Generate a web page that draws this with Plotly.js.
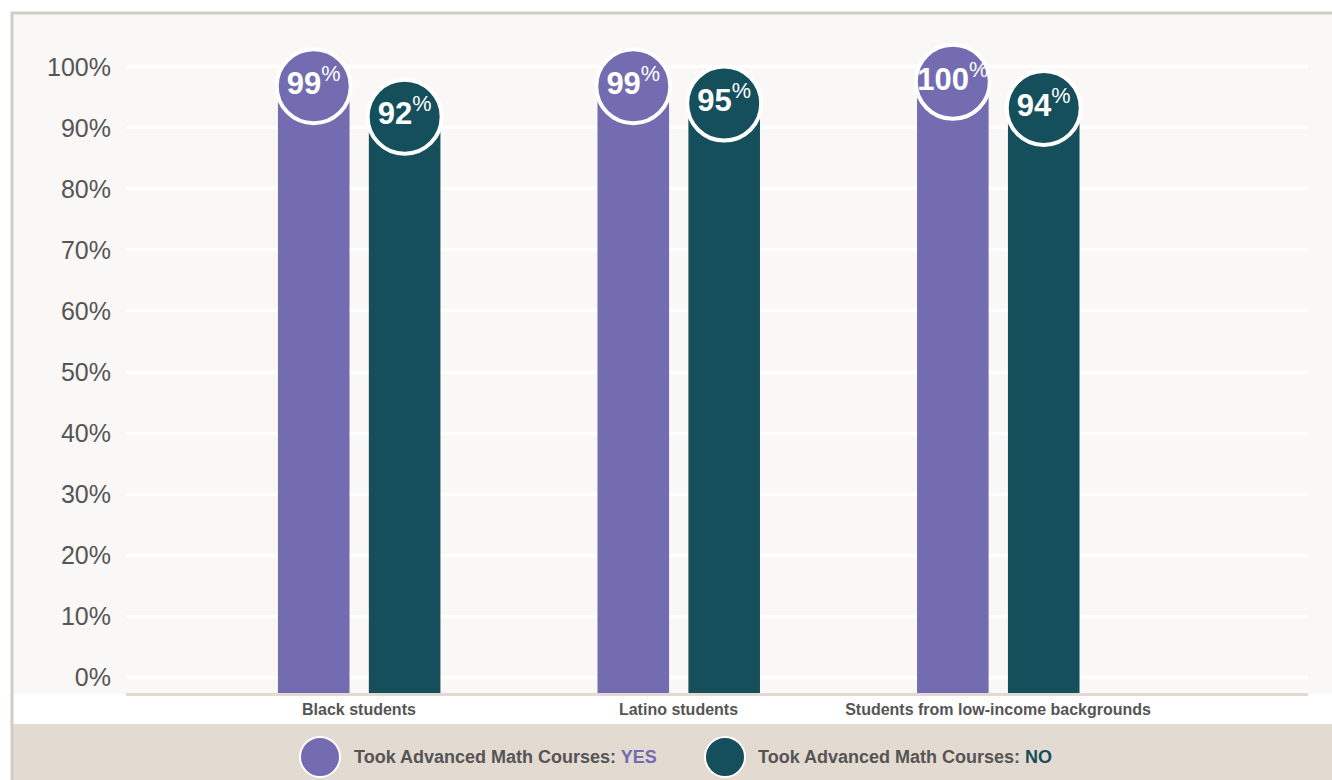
<!DOCTYPE html>
<html>
<head>
<meta charset="utf-8">
<script src="https://cdn.plot.ly/plotly-3.0.1.min.js"></script>
<style>html,body{margin:0;padding:0;background:#fff;}#chart{width:1332px;height:780px;}</style>
</head>
<body>
<div id="chart"></div>
<script>
// ---- data ----
const categories = ['Black students', 'Latino students', 'Students from low-income backgrounds'];
const yesValues = [99, 99, 100];
const noValues = [92, 95, 94];
const yTickValues = [0, 10, 20, 30, 40, 50, 60, 70, 80, 90, 100];
const yTickLabels = ['0%', '10%', '20%', '30%', '40%', '50%', '60%', '70%', '80%', '90%', '100%'];
const seriesNames = ['Took Advanced Math Courses: YES', 'Took Advanced Math Courses: NO'];

// ---- styling ----
const PURPLE = '#746cb0';
const TEAL = '#154f5c';
const GRAY_TEXT = '#555555';
const FONT = '"Liberation Sans", Arial, sans-serif';
const W = 1332, H = 780;
const ML = 126, MR = 24, MT = 20, MB = 87;
const Y_MIN = -2.62, Y_MAX = 107.7;
const BAR_W = 0.224, YES_OFF = -0.2535, NO_OFF = 0.031;

const xIdx = categories.map((c, i) => i);
const px = x => (x - ML) / (W - ML - MR);
const py = y => (H - MB - y) / (H - MT - MB);

function label(v) {
  return '<b>' + v + '</b><sup>%</sup>';
}

const traces = [
  {type: 'bar', x: xIdx, y: yesValues.map(v => v - Y_MIN), base: Y_MIN, width: BAR_W, offset: YES_OFF,
   marker: {color: PURPLE}, hoverinfo: 'skip', showlegend: false},
  {type: 'bar', x: xIdx, y: noValues.map(v => v - Y_MIN), base: Y_MIN, width: BAR_W, offset: NO_OFF,
   marker: {color: TEAL}, hoverinfo: 'skip', showlegend: false},
  {type: 'scatter', mode: 'markers+text', x: xIdx.map(i => i + YES_OFF + BAR_W / 2), y: yesValues, yaxis: 'y2',
   marker: {size: 74, color: PURPLE, line: {color: '#ffffff', width: 4}},
   text: yesValues.map(label), textposition: 'middle center',
   textfont: {family: FONT, size: 31, color: '#ffffff'}, cliponaxis: false, showlegend: false, hoverinfo: 'skip'},
  {type: 'scatter', mode: 'markers+text', x: xIdx.map(i => i + NO_OFF + BAR_W / 2), y: noValues, yaxis: 'y2',
   marker: {size: 74, color: TEAL, line: {color: '#ffffff', width: 4}},
   text: noValues.map(label), textposition: 'middle center',
   textfont: {family: FONT, size: 31, color: '#ffffff'}, cliponaxis: false, showlegend: false, hoverinfo: 'skip'}
];

const shapes = [
  {type: 'rect', xref: 'paper', yref: 'paper', x0: px(13), x1: px(1332), y0: py(694), y1: py(14),
   fillcolor: '#f9f8f6', line: {width: 0}, layer: 'below'},
  {type: 'rect', xref: 'paper', yref: 'paper', x0: px(13), x1: px(1332), y0: py(780), y1: py(724),
   fillcolor: '#e3dad1', line: {width: 0}, layer: 'below'},
  {type: 'line', xref: 'paper', yref: 'paper', x0: px(12), x1: px(12), y0: py(780), y1: py(12),
   line: {color: '#cfcdc6', width: 3}},
  {type: 'line', xref: 'paper', yref: 'paper', x0: px(11), x1: px(1332), y0: py(13), y1: py(13),
   line: {color: '#cfcdc6', width: 3}},
  {type: 'circle', xref: 'paper', yref: 'paper', x0: px(300), x1: px(340), y0: py(777), y1: py(737),
   fillcolor: PURPLE, line: {color: '#ffffff', width: 2}},
  {type: 'circle', xref: 'paper', yref: 'paper', x0: px(705), x1: px(745), y0: py(777), y1: py(737),
   fillcolor: TEAL, line: {color: '#ffffff', width: 2}}
];

function legendText(name, color) {
  const parts = name.split(': ');
  return '<b>' + parts[0] + ': <span style="color:' + color + '">' + parts[1] + '</span></b>';
}

const annotations = [
  {xref: 'paper', yref: 'paper', x: px(352), y: py(757), xanchor: 'left', yanchor: 'middle', showarrow: false,
   text: legendText(seriesNames[0], PURPLE), font: {family: FONT, size: 18, color: GRAY_TEXT}},
  {xref: 'paper', yref: 'paper', x: px(756), y: py(757), xanchor: 'left', yanchor: 'middle', showarrow: false,
   text: legendText(seriesNames[1], TEAL), font: {family: FONT, size: 18, color: GRAY_TEXT}}
];

const layout = {
  width: W, height: H,
  margin: {l: ML, r: MR, t: MT, b: MB},
  paper_bgcolor: '#ffffff',
  plot_bgcolor: '#f9f8f6',
  showlegend: false,
  barmode: 'overlay',
  font: {family: FONT, color: GRAY_TEXT},
  xaxis: {
    range: [-0.729, 2.97], tickvals: xIdx, ticktext: categories,
    tickfont: {family: FONT, size: 16, color: GRAY_TEXT, weight: 700},
    showgrid: false, zeroline: false, showline: true, linecolor: '#e2d9d0', linewidth: 3,
    ticks: '', ticklabelstandoff: 0, fixedrange: true
  },
  yaxis: {
    range: [Y_MIN, Y_MAX], tickvals: yTickValues, ticktext: yTickLabels,
    tickfont: {family: FONT, size: 25, color: GRAY_TEXT},
    showgrid: true, gridcolor: '#ffffff', gridwidth: 3, zeroline: false, showline: false,
    ticks: '', ticklabelstandoff: 14, fixedrange: true
  },
  yaxis2: {
    overlaying: 'y', range: [-40.4, 114.2], visible: false, fixedrange: true
  },
  shapes: shapes,
  annotations: annotations
};

Plotly.newPlot('chart', traces, layout, {displayModeBar: false, staticPlot: true});
</script>
</body>
</html>
